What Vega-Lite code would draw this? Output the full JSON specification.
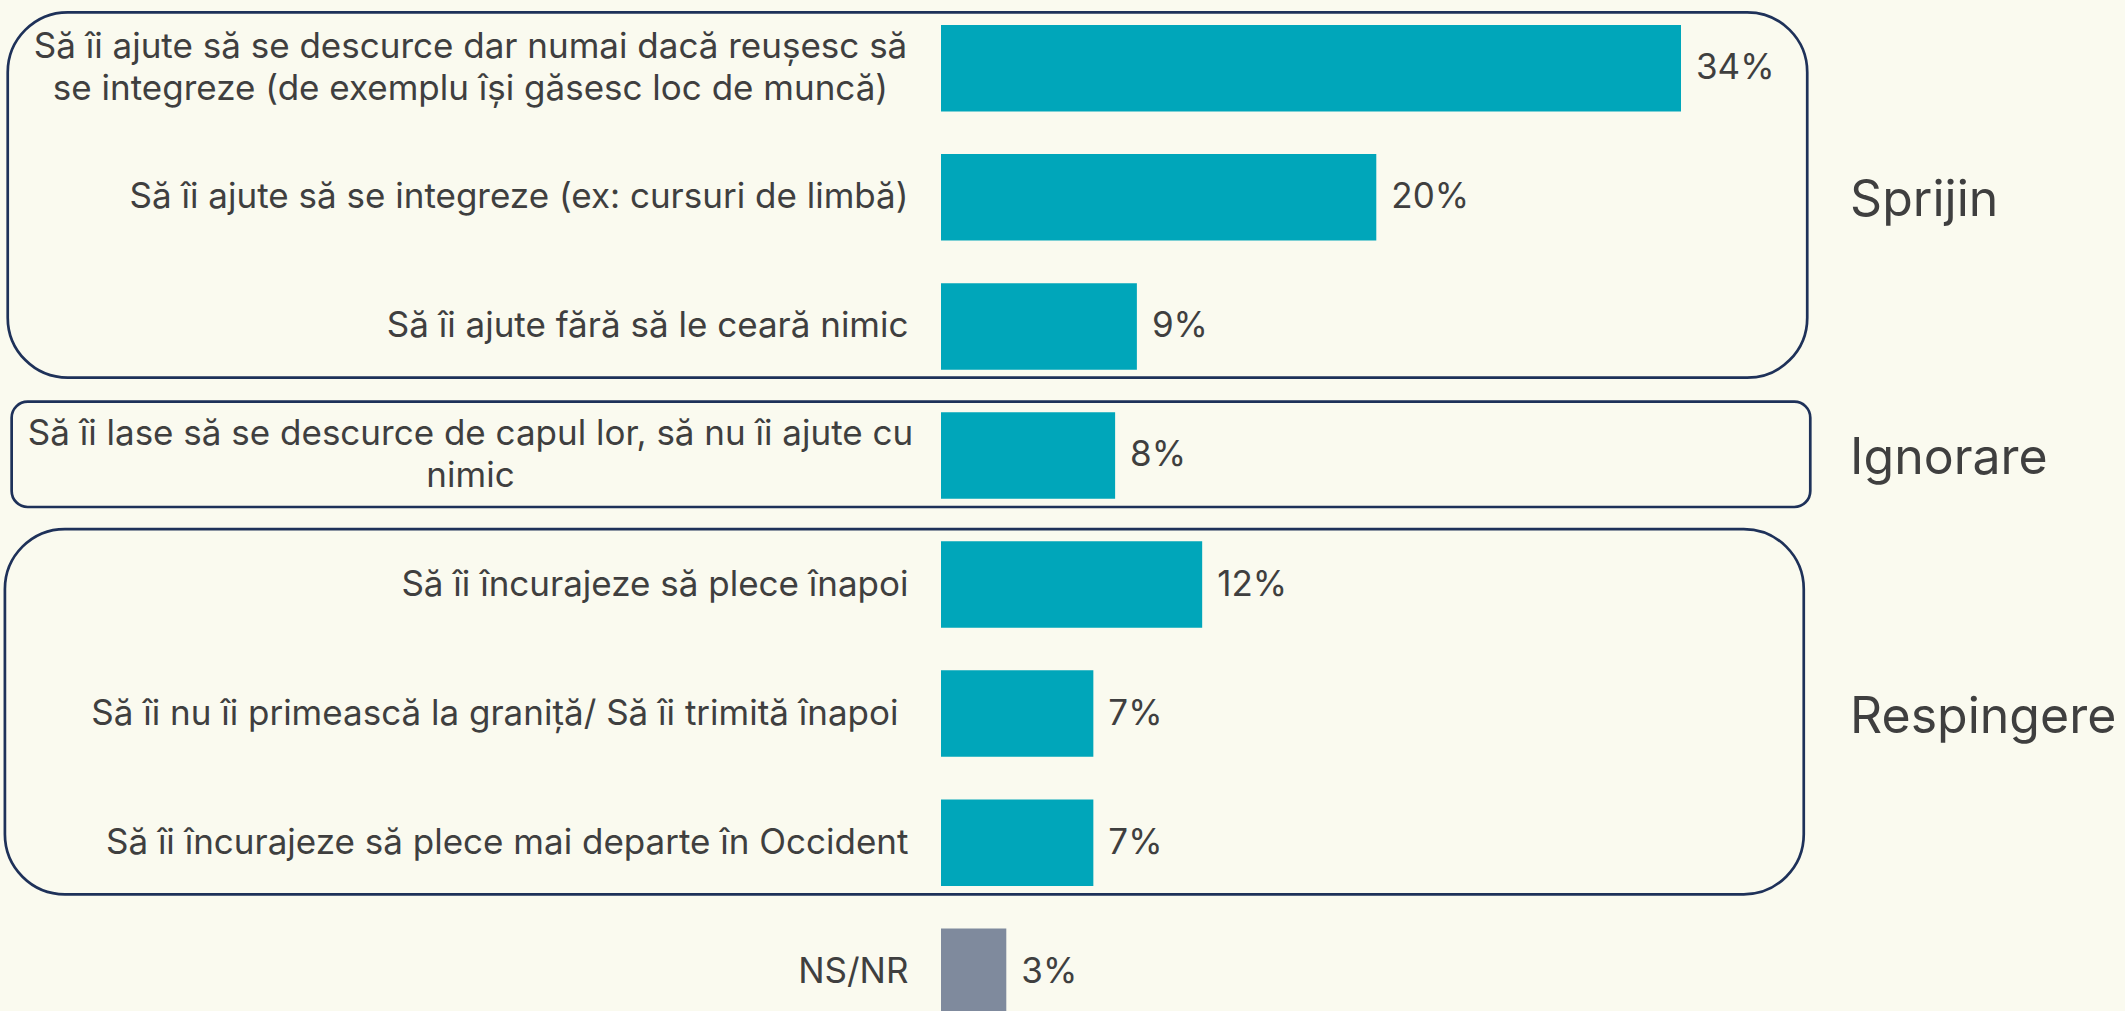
{
  "$schema": "https://vega.github.io/schema/vega-lite/v6.json",
  "autosize": {"type": "none"},
  "padding": {"left": 941, "top": 0, "right": 0, "bottom": 0},
  "width": 1184,
  "height": 1040,
  "background": "#FAFAEF",
  "config": {
    "view": {"stroke": null},
    "font": "Inter",
    "text": {"font": "Inter", "color": "#3f3f3f"}
  },
  "datasets": {
    "raspunsuri": [
      {"raspuns": "Să îi ajute să se descurce dar numai dacă reușesc să|se integreze (de exemplu își găsesc loc de muncă)", "valoare": 0.34, "tip": "opțiune", "eticheta_grup": ""},
      {"raspuns": "Să îi ajute să se integreze (ex: cursuri de limbă)", "valoare": 0.20, "tip": "opțiune", "eticheta_grup": "Sprijin"},
      {"raspuns": "Să îi ajute fără să le ceară nimic", "valoare": 0.09, "tip": "opțiune", "eticheta_grup": ""},
      {"raspuns": "Să îi lase să se descurce de capul lor, să nu îi ajute cu|nimic", "valoare": 0.08, "tip": "opțiune", "eticheta_grup": "Ignorare"},
      {"raspuns": "Să îi încurajeze să plece înapoi", "valoare": 0.12, "tip": "opțiune", "eticheta_grup": ""},
      {"raspuns": "Să îi nu îi primească la graniță/ Să îi trimită înapoi", "valoare": 0.07, "tip": "opțiune", "eticheta_grup": "Respingere"},
      {"raspuns": "Să îi încurajeze să plece mai departe în Occident", "valoare": 0.07, "tip": "opțiune", "eticheta_grup": ""},
      {"raspuns": "NS/NR", "valoare": 0.03, "tip": "NS/NR", "eticheta_grup": ""}
    ],
    "grupuri": [
      {"grup": "Sprijin", "x_stanga": -0.4288, "x_dreapta": 0.3980, "rand_sus": -0.434, "rand_jos": 2.397, "colt": "mare"},
      {"grup": "Ignorare", "x_stanga": -0.4270, "x_dreapta": 0.3994, "rand_sus": 2.583, "rand_jos": 3.399, "colt": "mic"},
      {"grup": "Respingere", "x_stanga": -0.4301, "x_dreapta": 0.3964, "rand_sus": 3.570, "rand_jos": 6.400, "colt": "mare"}
    ]
  },
  "resolve": {"scale": {"y": "independent"}},
  "layer": [
    {
      "data": {"name": "grupuri"},
      "transform": [{"filter": "datum.colt == 'mare'"}],
      "mark": {"type": "rect", "cornerRadius": 60, "fill": "transparent", "stroke": "#1E3159", "strokeWidth": 2.7},
      "encoding": {
        "x": {"field": "x_stanga", "type": "quantitative", "scale": {"domain": [0, 0.544], "nice": false, "zero": false}, "axis": null},
        "x2": {"field": "x_dreapta"},
        "y": {"field": "rand_sus", "type": "quantitative", "scale": {"domain": [-0.5292, 7.529], "reverse": true, "nice": false, "zero": false}, "axis": null},
        "y2": {"field": "rand_jos"}
      }
    },
    {
      "data": {"name": "grupuri"},
      "transform": [{"filter": "datum.colt == 'mic'"}],
      "mark": {"type": "rect", "cornerRadius": 16, "fill": "transparent", "stroke": "#1E3159", "strokeWidth": 2.7},
      "encoding": {
        "x": {"field": "x_stanga", "type": "quantitative", "scale": {"domain": [0, 0.544], "nice": false, "zero": false}, "axis": null},
        "x2": {"field": "x_dreapta"},
        "y": {"field": "rand_sus", "type": "quantitative", "scale": {"domain": [-0.5292, 7.529], "reverse": true, "nice": false, "zero": false}, "axis": null},
        "y2": {"field": "rand_jos"}
      }
    },
    {
      "data": {"name": "raspunsuri"},
      "encoding": {
        "y": {
          "field": "raspuns", "type": "nominal", "sort": null,
          "scale": {"paddingInner": 0.33, "paddingOuter": 0.194},
          "axis": {
            "title": null, "domain": false, "ticks": false, "grid": false,
            "labelExpr": "split(datum.value, '|')",
            "labelFont": "Inter", "labelFontSize": 35, "labelColor": "#3f3f3f", "labelLimit": 0,
            "labelLineHeight": 42,
            "labelAlign": {"condition": {"test": "indexof(datum.value, '|') >= 0", "value": "center"}, "value": "right"},
            "labelPadding": {"condition": [
              {"test": "indexof(datum.value, '|') >= 0", "value": 471},
              {"test": "indexof(datum.value, 'graniță') >= 0", "value": 43}
            ], "value": 33},
            "labelOffset": {"condition": {"test": "indexof(datum.value, '|') >= 0", "value": -21}, "value": 0},
            "encode": {"labels": {"update": {"lineHeight": {"signal": "indexof(datum.value, 'capul') >= 0 ? 33 : 42"}}}}
          }
        }
      },
      "layer": [
        {
          "mark": {"type": "bar"},
          "encoding": {
            "x": {"field": "valoare", "type": "quantitative", "scale": {"domain": [0, 0.544], "nice": false, "zero": false}, "axis": null},
            "color": {"field": "tip", "type": "nominal", "scale": {"domain": ["opțiune", "NS/NR"], "range": ["#00A6BA", "#7F8A9D"]}, "legend": null}
          }
        },
        {
          "mark": {"type": "text", "align": "left", "baseline": "middle", "dx": 15, "fontSize": 35, "color": "#3f3f3f"},
          "encoding": {
            "x": {"field": "valoare", "type": "quantitative", "scale": {"domain": [0, 0.544], "nice": false, "zero": false}, "axis": null},
            "text": {"field": "valoare", "type": "quantitative", "format": ".0%"}
          }
        },
        {
          "mark": {"type": "text", "align": "left", "baseline": "middle", "dy": 4, "fontSize": 50, "color": "#3f3f3f"},
          "encoding": {
            "x": {"datum": 0.4177, "type": "quantitative", "scale": {"domain": [0, 0.544], "nice": false, "zero": false}, "axis": null},
            "text": {"field": "eticheta_grup", "type": "nominal"}
          }
        }
      ]
    }
  ]
}
